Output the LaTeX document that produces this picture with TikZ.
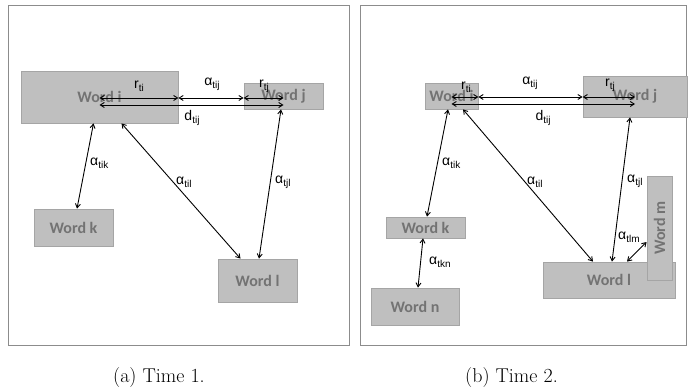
\documentclass[tikz,border=0pt]{standalone}
\usepackage{fontspec}
\usetikzlibrary{arrows.meta}
\newfontfamily\boxfont{Carlito}
\newfontfamily\labfont{Liberation Sans}
% label with a lowered subscript
\newcommand\subl[2]{#1\raisebox{-0.4ex}{\fontsize{10}{10}\selectfont #2}}
\definecolor{boxfill}{HTML}{BFBFBF}
\definecolor{boxline}{HTML}{A5A5A5}
\definecolor{boxtext}{HTML}{737373}
\tikzset{
	wordbox/.style={draw=boxline, fill=boxfill, line width=0.8pt, inner sep=0pt},
	wordtext/.style={text=boxtext, font=\boxfont\bfseries\fontsize{16}{17}\selectfont, inner sep=0pt},
	link/.style={line width=0.9pt, {Straight Barb[length=4pt,width=5pt]}-{Straight Barb[length=4pt,width=5pt]}},
	lab/.style={font=\labfont\fontsize{14}{15}\selectfont, inner sep=0pt},
	panel/.style={draw=gray!90, line width=0.8pt},
}
\begin{document}
\begin{tikzpicture}[x=1pt,y=-1pt]
		\useasboundingbox (0,0) rectangle (693,390);
		
		%% (a) time 1
		\draw [panel] (8,5) rectangle (349,345);
		
		\node [wordbox, minimum width=157pt, minimum height=52pt] (wia) at (99.5,97) {};
		\node [wordbox, minimum width=79pt, minimum height=26pt] (wja) at (283.5,96) {};
		\node [wordbox, minimum width=79pt, minimum height=37pt] (wka) at (73.5,227.5) {};
		\node [wordbox, minimum width=79pt, minimum height=43pt] (wla) at (257.5,280.5) {};
		\node [wordtext] at (wia) {Word i};
		\node [wordtext] at (wja) {Word j};
		\node [wordtext] at (wka) {Word k};
		\node [wordtext] at (wla) {Word l};
		
		\draw [link] ([yshift=-1pt]wia.center) -- ([yshift=-1pt]wia.east);
		\draw [link] ([yshift=-1pt]wia.east) -- ([yshift=-1pt]wia.east -| wja.west);
		\draw [link] ([yshift=-1pt]wia.east -| wja.west) -- ([yshift=-1pt]wia.center -| wja.center);
		\draw [link] ([yshift=-8pt]wia.center) -- ([yshift=-8pt]wia.center -| wja.center);
		\draw [link] ([xshift=-6pt]wia.south) -- ([xshift=3.5pt]wka.north);
		\draw [link] ([xshift=22pt]wia.south) -- ([xshift=-17pt]wla.north);
		\draw [link] ([xshift=-2.5pt]wja.south) -- ([xshift=1.5pt]wla.north);
		
		\node [lab] at (139,86) {\subl{r}{ti}};
		\node [lab] at (212,84) {\subl{α}{tij}};
		\node [lab] at (264,86) {\subl{r}{tj}};
		\node [lab] at (192,118) {\subl{d}{tij}};
		\node [lab, anchor=west] at (90,163) {\subl{α}{tik}};
		\node [lab, anchor=west] at (176,182) {\subl{α}{til}};
		\node [lab, anchor=west] at (275,182) {\subl{α}{tjl}};
		
		%% (b) time 2
		\draw [panel] (360,5) rectangle (686,345);
		
		\node [wordbox, minimum width=53pt, minimum height=26pt] (wib) at (451.5,96) {};
		\node [wordbox, minimum width=104pt, minimum height=41pt] (wjb) at (635,96.5) {};
		\node [wordbox, minimum width=79pt, minimum height=21pt] (wkb) at (425.5,227.5) {};
		\node [wordbox, minimum width=88pt, minimum height=37pt] (wnb) at (415,306.5) {};
		\node [wordbox, minimum width=132pt, minimum height=36pt] (wlb) at (609,280) {};
		\node [wordtext] at (wib) {Word i};
		\node [wordtext] at (wjb) {Word j};
		\node [wordtext] at (wkb) {Word k};
		\node [wordtext] at (wnb) {Word n};
		\node [wordtext] at (wlb) {Word l};
		\node [wordbox, minimum width=25pt, minimum height=104pt] (wmb) at (659.5,228) {};
		\node [wordtext, rotate=90] at (wmb) {Word m};
		
		\draw [link] ([yshift=-1pt]wib.center) -- ([yshift=-1pt]wib.east);
		\draw [link] ([yshift=-1pt]wib.east) -- ([yshift=-1pt]wib.east -| wjb.west);
		\draw [link] ([yshift=-1pt]wib.east -| wjb.west) -- ([yshift=-1pt]wib.center -| wjb.center);
		\draw [link] ([yshift=-8pt]wib.center) -- ([yshift=-8pt]wib.center -| wjb.center);
		\draw [link] ([xshift=-3.5pt]wib.south) -- ([xshift=1.5pt]wkb.north);
		\draw [link] ([xshift=11.5pt]wib.south) -- ([xshift=-16pt]wlb.north);
		\draw [link] ([xshift=-5pt]wjb.south) -- ([xshift=3pt]wlb.north);
		\draw [link] ([xshift=-2.5pt]wkb.south) -- ([xshift=3pt]wnb.north);
		\draw [link] ([xshift=18pt]wlb.north) -- ([yshift=-14pt]wmb.west);
		
		\node [lab] at (466,87) {\subl{r}{ti}};
		\node [lab] at (530,83) {\subl{α}{tij}};
		\node [lab] at (610,85) {\subl{r}{tj}};
		\node [lab] at (543,118) {\subl{d}{tij}};
		\node [lab, anchor=west] at (442,163) {\subl{α}{tik}};
		\node [lab, anchor=west] at (527,182) {\subl{α}{til}};
		\node [lab, anchor=west] at (627,181) {\subl{α}{tjl}};
		\node [lab, anchor=west] at (429,262) {\subl{α}{tkn}};
		\node [lab, anchor=west] at (618,237) {\subl{α}{tlm}};
		
		%% captions
		\node [anchor=base west, inner sep=0pt, font=\fontsize{20}{24}\selectfont] (capa) at (113,382) {(a)\ Time 1.};
		\node [anchor=base west, inner sep=0pt, font=\fontsize{20}{24}\selectfont] (capb) at (465,382) {(b)\ Time 2.};
	\end{tikzpicture}
\end{document}
